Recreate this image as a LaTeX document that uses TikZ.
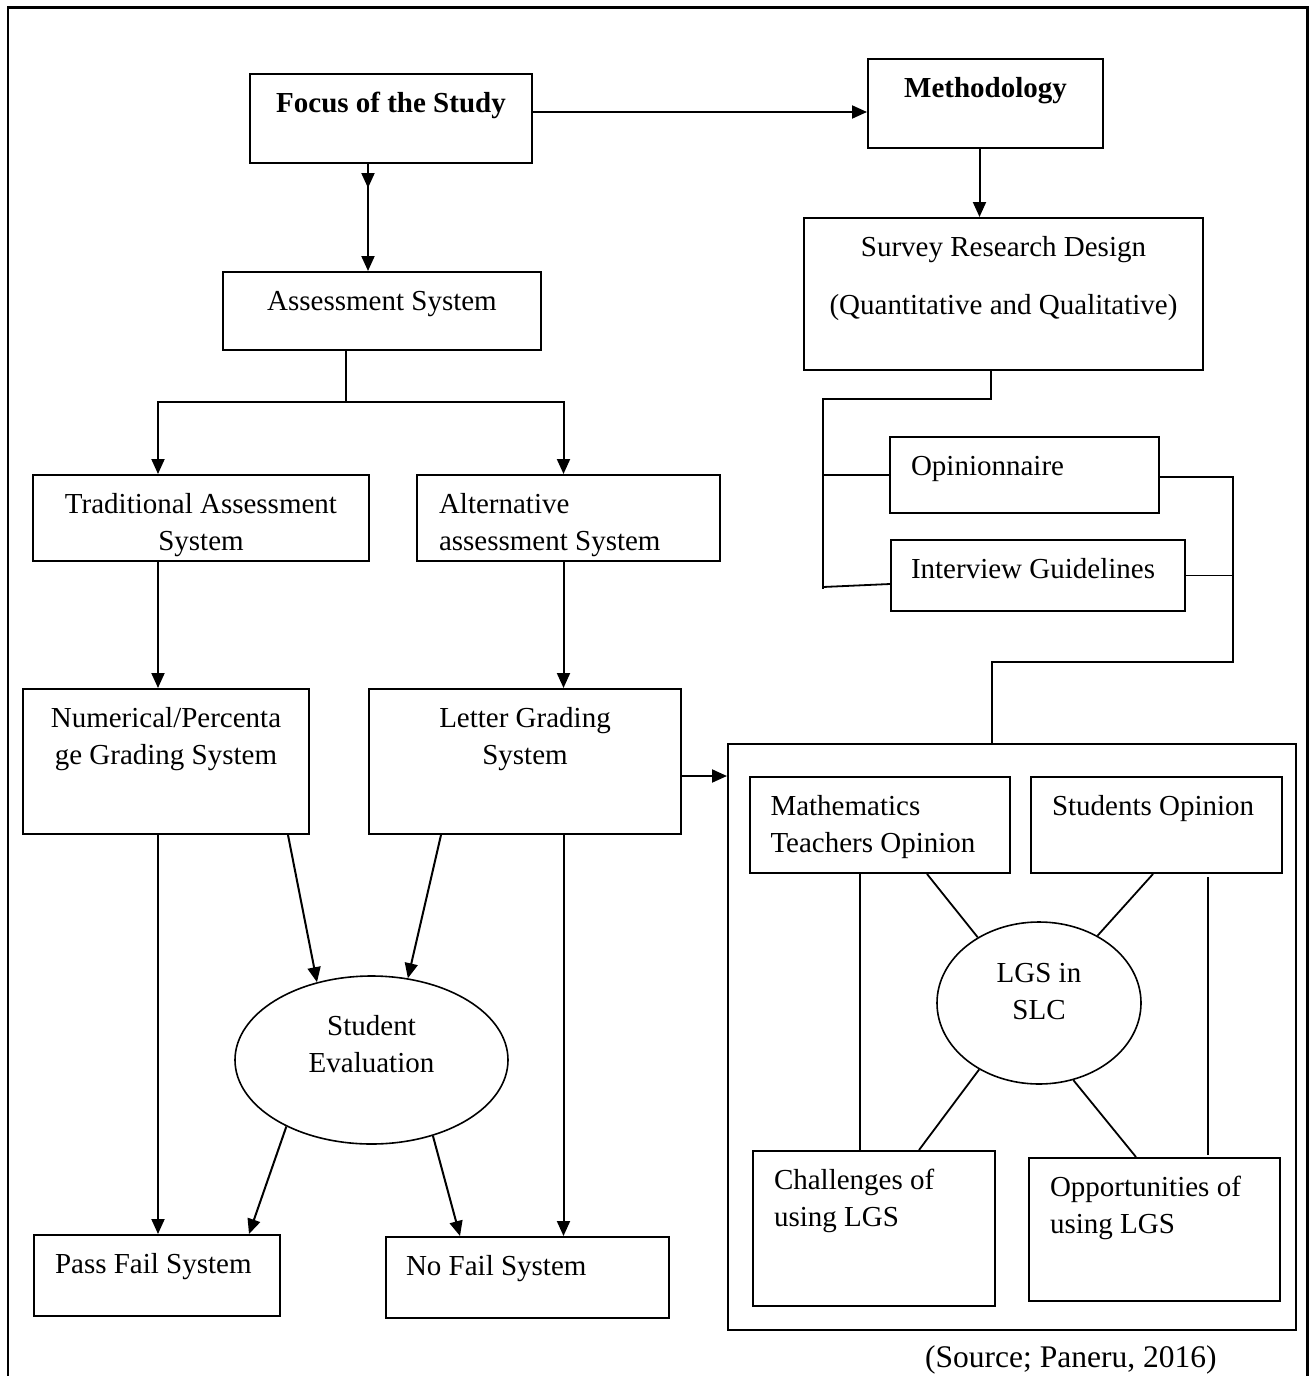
\documentclass[tikz,border=0pt]{standalone}
\usepackage{fontspec}
\setmainfont{Liberation Serif}
\usetikzlibrary{arrows.meta,positioning,shapes.geometric}
\tikzset{
  box/.style={draw=black,line width=2pt,anchor=north west,inner ysep=0pt,text height=38pt,font=\fontsize{29}{37}\selectfont},
  cbox/.style={box,inner xsep=0pt,align=flush center},
  lbox/.style={box,align=flush left},
  oval/.style={draw=black,ellipse,line width=1.6pt,inner sep=0pt,align=flush center,text height=20pt,font=\fontsize{29}{37}\selectfont},
  flow/.style={-{Triangle[length=15pt,width=13pt]},line width=2pt},
  treeline/.style={line width=1.8pt},
}

\begin{document}
\begin{tikzpicture}[x=1pt,y=-1pt]
    \useasboundingbox (0,0) rectangle (1314,1376);
    \draw[line width=2.5pt] (8,1376)--(8,7.5)--(1307.5,7.5)--(1307.5,1376);
    \node[cbox,text width=282pt,text depth=51pt] (focus) at (249,73) {\bfseries Focus of the Study};
    \node[cbox,text width=235pt,text depth=51pt] (meth) at (867,58) {\bfseries Methodology};
    \node[cbox,text width=318pt,text depth=40pt] (assess) at (222,271) {Assessment System};
    \node[cbox,text width=399pt,text depth=114pt] (survey) at (803,217) {Survey Research Design\\[21pt](Quantitative and Qualitative)};
    \node[cbox,text width=336pt,text depth=48pt] (trad) at (32,474) {Traditional Assessment\\System};
    \node[lbox,inner xsep=22pt,text width=259pt,text depth=48pt] (alt) at (416,474) {Alternative\\assessment System};
    \node[cbox,text width=286pt,text depth=107pt] (num) at (22,688) {Numerical/Percenta\\ge Grading System};
    \node[cbox,text width=312pt,text depth=107pt] (letter) at (368,688) {Letter Grading\\System};
    \node[lbox,inner xsep=21pt,text width=203.5pt,text depth=43pt] (pass) at (33,1234) {Pass Fail System};
    \node[lbox,inner xsep=20pt,text width=243pt,text depth=42.5pt] (nofail) at (385,1236) {No Fail System};
    \node[oval,minimum width=273pt,minimum height=168pt,text width=160pt,text depth=70pt] (eval) at (371.5,1060) {Student\\Evaluation};
    \node[lbox,inner xsep=21pt,text width=227pt,text depth=38pt] (opin) at (889,436) {Opinionnaire};
    \node[lbox,inner xsep=20pt,text width=254pt,text depth=33pt] (inter) at (890,539) {Interview Guidelines};
    \node[draw=black,line width=2pt,anchor=north west,inner sep=0pt,minimum width=568pt,minimum height=586pt] (big) at (727,743) {};
    \node[lbox,inner xsep=21pt,text width=218.5pt,text depth=58pt] (math) at (748.5,776) {Mathematics\\Teachers Opinion};
    \node[lbox,inner xsep=21pt,text width=209pt,text depth=58pt] (students) at (1030,776) {Students Opinion};
    \node[oval,minimum width=204pt,minimum height=162pt,text width=90pt,text depth=62pt] (lgs) at (1039,1003) {LGS in\\SLC};
    \node[lbox,inner xsep=21pt,text width=200pt,text depth=117pt] (chall) at (752,1150) {Challenges of\\using LGS};
    \node[lbox,inner xsep=21pt,text width=209pt,text depth=105pt] (opp) at (1028,1157) {Opportunities of\\using LGS};
    \node[anchor=base west,inner sep=0pt,font=\fontsize{31.5}{38}\selectfont] (src) at (925,1367) {(Source; Paneru, 2016)};
    \coordinate (mid) at (368,188);
    \coordinate (split) at (346,402);
    \coordinate (lbus) at (823,399);
    \coordinate (rbus) at (1233,662);
    \draw[flow] (focus.east |- 0,112)--(meth.west |- 0,112);
    \draw[flow] (focus.south -| mid)--(mid);\draw[flow] (focus.south -| mid)--(assess.north -| mid);
    \draw[treeline] (assess.south -| split)--(split);
    \draw[flow] (split) -| (trad.north -| 158,0);\draw[flow] (split) -| (alt.north -| 563.5,0);
    \draw[flow] (trad.south -| 158,0)--(num.north -| 158,0);\draw[flow] (alt.south -| 563.5,0)--(letter.north -| 563.5,0);
    \draw[flow] (num.south -| 158,0)--(pass.north -| 158,0);\draw[flow] (letter.south -| 563.5,0)--(nofail.north -| 563.5,0);
    \draw[flow] (num.south -| 288,0)--(eval.125);\draw[flow] (letter.south -| 441,0)--(eval.66);
    \draw[flow] (eval.218)--(pass.north -| 249,0);\draw[flow] (eval.309)--(nofail.north -| 460,0);
    \draw[flow] (letter.east |- 0,776)--(big.west |- 0,776);
    \draw[flow] (meth.south -| 979.5,0)--(survey.north -| 979.5,0);
    \draw[treeline] (survey.south -| 991,0) |- (lbus)--(lbus |- 0,589);
    \draw[treeline] (lbus |- opin.west)--(opin.west);\draw[treeline] (lbus |- 0,587)--(inter.west |- 0,584);
    \draw[treeline] (opin.east |- 0,477) -| (rbus) -| (big.north -| 992,0);
    \draw[treeline] (inter.east)--(inter.east -| rbus);
    \draw[treeline] (math.south -| 927,0)--(lgs.133);\draw[treeline] (students.south -| 1153,0)--(lgs.49);
    \draw[treeline] (lgs.228)--(chall.north -| 919,0);\draw[treeline] (lgs.294)--(opp.north -| 1136,0);
    \draw[treeline] (math.south -| 860,0)--(chall.north -| 860,0);
    \draw[treeline,shorten <=3pt,shorten >=2pt] (students.south -| 1208,0)--(opp.north -| 1208,0);
\end{tikzpicture}
\end{document}
